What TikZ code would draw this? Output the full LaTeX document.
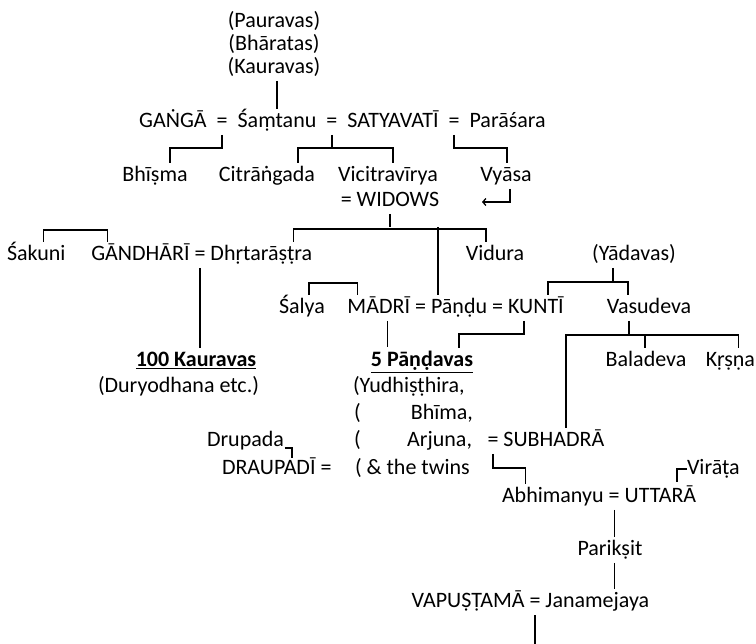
\documentclass[tikz,border=0pt]{standalone}
\usepackage{fontspec}
\setmainfont{Carlito}
\usetikzlibrary{positioning,arrows.meta}
\begin{document}
\begin{tikzpicture}[x=1pt,y=-1pt,
    who/.style={font=\fontsize{22}{26}\selectfont,inner sep=0pt,outer xsep=0pt,outer ysep=2pt,text height=17pt,text depth=5pt},
    link/.style={line width=1.3pt,black}]
    \useasboundingbox (0,0) rectangle (756,644);
    % lines of descent
    \node[who,anchor=base] (paur) at (274,28) {(Pauravas)};
    \node[who,anchor=base] (bhar) at (274,51) {(Bhāratas)};
    \node[who,anchor=base] (kaur) at (274,74) {(Kauravas)};
    \node[who,anchor=base] (samtanu) at (277,128) {Śaṃtanu};
    \node[who,left=10pt of samtanu] (eqA) {=};
    \node[who,left=10pt of eqA] (ganga) {GAṄGĀ};
    \node[who,right=10pt of samtanu] (eqB) {=};
    \node[who,right=10pt of eqB] (satya) {SATYAVATĪ};
    \node[who,right=10pt of satya] (eqC) {=};
    \node[who,right=10pt of eqC] (parasara) {Parāśara};
    \node[who,anchor=base] (bhisma) at (155,182) {Bhīṣma};
    \node[who,anchor=base] (citra) at (267,182) {Citrāṅgada};
    \node[who,anchor=base] (vicitra) at (388,182) {Vicitravīrya};
    \node[who,anchor=base] (vyasa) at (506,182) {Vyāsa};
    \node[who,anchor=base] (widows) at (390,207) {= WIDOWS};
    \node[who,anchor=base west] (sakuni) at (7,261) {Śakuni};
    \node[who,anchor=base] (eqD) at (200,261) {=};
    \node[who,left=5pt of eqD] (gandhari) {GĀNDHĀRĪ};
    \node[who,right=5pt of eqD] (dhrta) {Dhṛtarāṣṭra};
    \node[who,anchor=base] (vidura) at (495,261) {Vidura};
    \node[who,anchor=base] (yadava) at (634,261) {(Yādavas)};
    \node[who,anchor=base] (salya) at (302,314) {Śalya};
    \node[who,anchor=base west] (pandu) at (431,314) {Pāṇḍu};
    \node[who,left=5pt of pandu] (eqE) {=};
    \node[who,left=5pt of eqE] (madri) {MĀDRĪ};
    \node[who,right=5pt of pandu] (eqF) {=};
    \node[who,right=5pt of eqF] (kunti) {KUNTĪ};
    \node[who,anchor=base] (vasudeva) at (649,314) {Vasudeva};
    \node[who,anchor=base] (kauravas) at (196,367) {\underline{\textbf{100 Kauravas}}};
    \node[who,anchor=base] (pandavas) at (422,367) {\underline{\textbf{5 Pāṇḍavas}}};
    \node[who,anchor=base] (baladeva) at (646,367) {Baladeva};
    \node[who,anchor=base east] (krsna) at (755,367) {Kṛṣṇa};
    \node[who,anchor=base west] (duryo) at (98,393) {(Duryodhana etc.)};
    \node[who,anchor=base west] (yudh) at (353,393) {(Yudhiṣṭhira,};
    \node[who,anchor=base west] (parB) at (354,420) {(};
    \node[who,anchor=base east] (bhima) at (473,420) {Bhīma,};
    \node[who,anchor=base west] (drupada) at (207,447) {Drupada};
    \node[who,anchor=base west] (parC) at (354,447) {(};
    \node[who,anchor=base east] (arjuna) at (472,447) {Arjuna,};
    \node[who,anchor=base] (eqS) at (493,447) {=};
    \node[who,right=5pt of eqS] (subhadra) {SUBHADRĀ};
    \node[who,anchor=base west] (draupadi) at (222,475) {DRAUPADĪ =};
    \node[who,anchor=base west] (twins) at (355,475) {( \& the twins};
    \node[who,anchor=base west] (virata) at (687,475) {Virāṭa};
    \node[who,anchor=base west] (abhi) at (502,503) {Abhimanyu};
    \node[who,right=5pt of abhi] (eqG) {=};
    \node[who,right=5pt of eqG] (uttara) {UTTARĀ};
    \node[who,anchor=base] (pariksit) at (610,556) {Parikṣit};
    \node[who,anchor=base] (eqH) at (535,608) {=};
    \node[who,left=5pt of eqH] (vapu) {VAPUṢṬAMĀ};
    \node[who,right=5pt of eqH] (janam) {Janamejaya};
    \coordinate (next) at (535,644);
    % connectors
    \draw[link] (kaur.south -| samtanu) -- (samtanu.north);
    \draw[link] (eqA.south) -- ++(0,13) -| ([xshift=15pt]bhisma.north);
    \draw[link] (eqB.south) -- ++(0,13);
    \draw[link] ([xshift=31pt]citra.north) -- ++(0,-15) -| ([xshift=5pt]vicitra.north);
    \draw[link] (eqC.south) -- ++(0,13) -| ([xshift=1pt]vyasa.north);
    \draw[link,-{Straight Barb[length=3pt,width=7pt]}] ([xshift=4pt]vyasa.south) -- ++(0,13) -- ++(-28,0);
    \draw[link] (widows.south) -- ++(0,13);
    \draw[link] ([xshift=32pt]dhrta.north) -- ++(0,-13) -| ([xshift=-9pt]vidura.north);
    \draw[link] ([xshift=-21pt]pandu.north) -- ++(0,-68);
    \draw[link] ([xshift=7pt]sakuni.north) -- ++(0,-12) -| ([xshift=-33pt]gandhari.north);
    \draw[link] (eqD.south) -- (kauravas.north -| eqD.south);
    \draw[link] ([xshift=7pt]salya.north) -- ++(0,-12) -| ([xshift=-21pt]madri.north);
    \draw[link] ([xshift=9pt]madri.south) -- ++(0,26);
    \draw[link] ([xshift=-12pt]kunti.south) -- ++(0,13) -| ([xshift=37pt]pandavas.north);
    \draw[link] ([xshift=-21pt]yadava.south) -- ++(0,13);
    \draw[link] ([xshift=12pt]kunti.north) -- ++(0,-13) -| ([xshift=-21pt]vasudeva.north);
    \draw[link] ([xshift=-20pt]vasudeva.south) -- ++(0,13);
    \draw[link] ([xshift=-1pt]baladeva.north) -- ++(0,-13);
    \draw[link] ([xshift=8pt]krsna.north) -- ++(0,-13) -| ([xshift=12pt]subhadra.north);
    \draw[link] (drupada.base east) ++(1,1) -- ++(7,0) -- ++(0,10);
    \draw[link] (eqS.south) -- ++(0,14) -| ([xshift=-27pt]abhi.north);
    \draw[link] (virata.west) -| ++(-10,13);
    \draw[link] (eqG.south) -- (pariksit.north -| eqG.south);
    \draw[link] (pariksit.south -| eqG) -- (janam.north -| eqG);
    \draw[link] (eqH.south) -- (next);
\end{tikzpicture}
\end{document}
